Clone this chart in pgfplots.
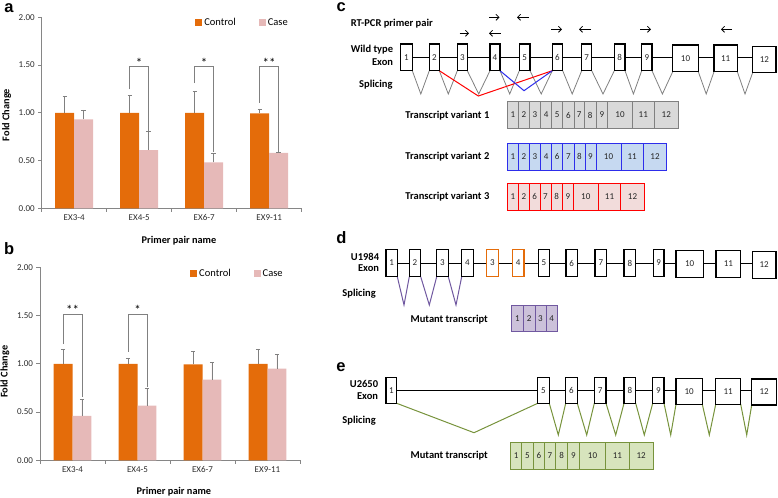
\documentclass[border=0pt]{standalone}
\usepackage{fontspec}
\setmainfont{Carlito}
\newfontfamily\arialf{Liberation Sans}
\usepackage{pgfplots}
\usepackage{pgfplotstable}
\pgfplotsset{compat=1.18}
\usetikzlibrary{arrows.meta}

\definecolor{ctrl}{RGB}{228,108,10}
\definecolor{case}{RGB}{230,185,184}
\definecolor{axgray}{RGB}{134,134,134}
\definecolor{errgray}{RGB}{128,128,128}
\definecolor{tickc}{RGB}{45,45,45}
\definecolor{splgray}{RGB}{128,128,128}
\definecolor{gfill}{RGB}{217,217,217}
\definecolor{gdraw}{RGB}{128,128,128}
\definecolor{bfill}{RGB}{198,217,241}
\definecolor{bdraw}{RGB}{45,45,235}
\definecolor{rfill}{RGB}{242,220,219}
\definecolor{rdraw}{RGB}{255,0,0}
\definecolor{pfill}{RGB}{204,193,218}
\definecolor{pdraw}{RGB}{112,88,160}
\definecolor{grfill}{RGB}{215,228,189}
\definecolor{grdraw}{RGB}{119,147,60}

% xc / xk: positions of the Control and Case bars within each category
\pgfplotstableread{
xc xk c ce k ke
0.854 1.146 1.00 0.17 0.93 0.10
1.854 2.146 1.00 0.18 0.61 0.19
2.854 3.146 1.00 0.22 0.48 0.10
3.854 4.146 0.995 0.045 0.58 0.006
}\dataA
\pgfplotstableread{
xc xk c ce k ke
0.854 1.146 1.00 0.15 0.46 0.17
1.854 2.146 1.00 0.057 0.567 0.18
2.854 3.146 0.995 0.13 0.836 0.175
3.854 4.146 1.00 0.154 0.95 0.15
}\dataB

\newcommand{\bx}[6][]{\draw[#1] (axis cs:#2,#4) rectangle node[exnum]{#6} (axis cs:#3,#5);}

\tikzset{
  exnum/.style={font=\fontsize{9bp}{9bp}\selectfont, inner sep=0pt, text=black!85},
  exonbox/.style={draw=black, line width=1.1bp, fill=white},
  lbl/.style={font=\bfseries\fontsize{10.5bp}{11bp}\selectfont, inner sep=0pt},
  plet/.style={font=\arialf\bfseries\fontsize{16.5bp}{17bp}\selectfont, inner sep=0pt},
  t1/.style={draw=gdraw, fill=gfill, line width=1bp},
  t2/.style={draw=bdraw, fill=bfill, line width=1bp},
  t3/.style={draw=rdraw, fill=rfill, line width=1bp},
  t4/.style={draw=pdraw, fill=pfill, line width=1bp},
  t5/.style={draw=grdraw, fill=grfill, line width=1bp},
  star/.style={anchor=south, inner sep=1bp, font=\fontsize{13bp}{13bp}\selectfont},
}

\pgfplotsset{
  barc/.style={
    scale only axis, width=260bp, anchor=south west,
    xmin=0.5, xmax=4.5, ymin=0, ymax=2, clip=false,
    axis x line*=bottom, axis y line*=left,
    axis line style={draw=axgray, line width=0.8bp},
    xtick={0.5,1.5,2.5,3.5,4.5}, xticklabels={},
    extra x ticks={1,2,3,4},
    extra x tick labels={EX3-4,EX4-5,EX6-7,EX9-11},
    extra x tick style={major tick length=0pt, tick label style={yshift=-2.5bp}},
    ytick={0,0.5,1,1.5,2},
    tick style={draw=axgray, line width=0.8bp},
    tick align=outside, major tick length=3.5bp,
    yticklabel style={/pgf/number format/.cd, fixed, fixed zerofill, precision=2, assume math mode=true},
    tick label style={font=\fontsize{9bp}{9bp}\selectfont, text=tickc},
    ylabel={Fold Change}, xlabel={Primer pair name},
    label style={font=\bfseries\fontsize{10.3bp}{11bp}\selectfont},
    legend columns=2,
    legend style={draw=none, fill=none, inner sep=0pt, font=\fontsize{10.5bp}{11bp}\selectfont,
      /tikz/every even column/.append style={column sep=21bp}},
  },
  ctrlbar/.style={ybar, bar shift=0, bar width=0.292, fill=ctrl, draw=none,
    legend image code/.code={\fill[ctrl] (0bp,-3.5bp) rectangle (7bp,3.5bp);},
    error bars/.cd, y dir=plus, y explicit, error mark=-,
    error bar style={draw=errgray, line width=0.8bp},
    error mark options={draw=errgray, rotate=90, mark size=2.2bp, line width=0.8bp}},
  casebar/.style={ybar, bar shift=0, bar width=0.292, fill=case, draw=none,
    legend image code/.code={\fill[case] (0bp,-3.5bp) rectangle (7bp,3.5bp);},
    error bars/.cd, y dir=plus, y explicit, error mark=-,
    error bar style={draw=errgray, line width=0.8bp},
    error mark options={draw=errgray, rotate=90, mark size=2.2bp, line width=0.8bp}},
  brk/.style={draw=errgray, line width=0.8bp, no marks, forget plot},
}

\begin{document}
\begin{tikzpicture}
\useasboundingbox (0,0) rectangle (778bp,498bp);

% ---------------- chart a ----------------
\begin{axis}[barc, at={(41.7bp,289.7bp)}, height=191bp,
  ylabel style={at={(axis description cs:-0.135,0.488)}, anchor=center},
  xlabel style={at={(axis description cs:0.528,-0.171)}, anchor=center},
  legend style={at={(axis description cs:0.59,0.972)}, anchor=west}]
\addplot[ctrlbar] table[x=xc, y=c, y error=ce] {\dataA};
\addlegendentry{Control}
\addplot[casebar] table[x=xk, y=k, y error=ke] {\dataA};
\addlegendentry{Case}
\addplot[brk] coordinates {(1.854,1.246)(1.854,1.483)(2.146,1.483)(2.146,0.81)};
\addplot[brk] coordinates {(2.854,1.31)(2.854,1.483)(3.146,1.483)(3.146,0.59)};
\addplot[brk] coordinates {(3.854,1.106)(3.854,1.483)(4.146,1.483)(4.146,0.593)};
\node[star] at (axis cs:2,1.46) {*};
\node[star] at (axis cs:3,1.46) {*};
\node[star] at (axis cs:4,1.46) {**};
\end{axis}

% ---------------- chart b ----------------
\begin{axis}[barc, at={(40bp,37.7bp)}, height=193bp,
  ylabel style={at={(axis description cs:-0.135,0.459)}, anchor=center},
  xlabel style={at={(axis description cs:0.515,-0.163)}, anchor=center},
  legend style={at={(axis description cs:0.577,0.966)}, anchor=west}]
\addplot[ctrlbar] table[x=xc, y=c, y error=ce] {\dataB};
\addlegendentry{Control}
\addplot[casebar] table[x=xk, y=k, y error=ke] {\dataB};
\addlegendentry{Case}
\addplot[brk] coordinates {(0.854,1.205)(0.854,1.516)(1.146,1.516)(1.146,0.66)};
\addplot[brk] coordinates {(1.854,1.125)(1.854,1.516)(2.146,1.516)(2.146,0.763)};
\node[star] at (axis cs:1,1.495) {**};
\node[star] at (axis cs:2,1.495) {*};
\end{axis}

% ---------------- diagrams (pixel canvas) ----------------
\begin{axis}[at={(0bp,0bp)}, anchor=south west, scale only axis,
  width=778bp, height=498bp, xmin=0, xmax=778, ymin=0, ymax=498,
  y dir=reverse, hide axis, clip=false]

% panel letters
\node[plet] at (axis cs:9,8.5) {a};
\node[plet] at (axis cs:9.2,248.3) {b};
\node[plet] at (axis cs:341.3,7.5) {c};
\node[plet] at (axis cs:341.5,237.5) {d};
\node[plet] at (axis cs:341,367.5) {e};

% ===== panel c =====
\node[lbl, anchor=west] at (axis cs:350.7,23.3) {RT-PCR primer pair};
\node[lbl, anchor=east] at (axis cs:393.3,49.3) {Wild type};
\node[lbl, anchor=east] at (axis cs:393.3,61.7) {Exon};
\node[lbl, anchor=east] at (axis cs:392.7,85) {Splicing};

% primer arrows
\addplot[black, line width=0.8bp, -{Straight Barb[length=3bp,width=6bp]}] coordinates {(459.5,33.3)(469,33.3)};
\addplot[black, line width=0.8bp, -{Straight Barb[length=3bp,width=6bp]}] coordinates {(489,17.3)(499.5,17.3)};
\addplot[black, line width=0.8bp, -{Straight Barb[length=3bp,width=6bp]}] coordinates {(500.5,33.3)(489,33.3)};
\addplot[black, line width=0.8bp, -{Straight Barb[length=3bp,width=6bp]}] coordinates {(528.5,17.3)(517,17.3)};
\addplot[black, line width=0.8bp, -{Straight Barb[length=3bp,width=6bp]}] coordinates {(551,29.3)(562,29.3)};
\addplot[black, line width=0.8bp, -{Straight Barb[length=3bp,width=6bp]}] coordinates {(591,29.3)(579,29.3)};
\addplot[black, line width=0.8bp, -{Straight Barb[length=3bp,width=6bp]}] coordinates {(640,29.3)(651,29.3)};
\addplot[black, line width=0.8bp, -{Straight Barb[length=3bp,width=6bp]}] coordinates {(732,29.3)(721,29.3)};

% gene line
\addplot[black, line width=1.1bp] coordinates {(405,57.7)(760,57.7)};
% splicing Vs
\addplot[splgray, line width=0.8bp] coordinates {(412.3,70.7)(420.8,94)(429.3,70.7)};
\addplot[splgray, line width=0.8bp] coordinates {(439.3,70.7)(448.3,94)(457.3,70.7)};
\addplot[splgray, line width=0.8bp] coordinates {(467.3,70.7)(478.7,94)(490,70.7)};
\addplot[splgray, line width=0.8bp] coordinates {(500,70.7)(509.7,94)(519.3,70.7)};
\addplot[splgray, line width=0.8bp] coordinates {(530,70.7)(541.2,94)(552.3,70.7)};
\addplot[splgray, line width=0.8bp] coordinates {(562.7,70.7)(572.2,94)(581.7,70.7)};
\addplot[splgray, line width=0.8bp] coordinates {(591.7,70.7)(603,94)(614.3,70.7)};
\addplot[splgray, line width=0.8bp] coordinates {(625,70.7)(633.4,94)(641.7,70.7)};
\addplot[splgray, line width=0.8bp] coordinates {(652,70.7)(662.4,94)(672.7,71.7)};
\addplot[splgray, line width=0.8bp] coordinates {(698.3,71.7)(706.2,94)(714,71.7)};
\addplot[splgray, line width=0.8bp] coordinates {(737.3,71.7)(745,94)(752.7,72.5)};
\addplot[rdraw, line width=1bp] coordinates {(439.3,70.7)(478.3,96)(552.3,70.7)};
\addplot[bdraw, line width=1bp] coordinates {(500,70.7)(524,90.7)(552.3,70.7)};
% exons
\bx[exonbox]{400.7}{412.3}{44}{70.7}{1}
\bx[exonbox]{429.3}{439.3}{44}{70.7}{2}
\bx[exonbox]{457.3}{467.3}{44}{70.7}{3}
\bx[exonbox]{490}{500}{44}{70.7}{4}
\bx[exonbox]{519.3}{530}{44}{70.7}{5}
\bx[exonbox]{552.3}{562.7}{44}{70.7}{6}
\bx[exonbox]{581.7}{591.7}{44}{70.7}{7}
\bx[exonbox]{614.3}{625}{44}{70.7}{8}
\bx[exonbox]{641.7}{652}{44}{70.7}{9}
\bx[exonbox]{672.7}{698.3}{45}{71.7}{10}
\bx[exonbox]{714}{737.3}{45}{71.7}{11}
\bx[exonbox]{752.7}{776}{46.2}{72.5}{12}

% transcripts
\node[lbl, anchor=east] at (axis cs:489.5,115.7) {Transcript variant 1};
\bx[t1]{507.7}{518.3}{101.7}{128.3}{1}
\bx[t1]{518.3}{529.3}{101.7}{128.3}{2}
\bx[t1]{529.3}{540.7}{101.7}{128.3}{3}
\bx[t1]{540.7}{551.7}{101.7}{128.3}{4}
\bx[t1]{551.7}{562.7}{101.7}{128.3}{5}
\bx[t1]{562.7}{574}{101.7}{128.3}{6}
\bx[t1]{574}{584.3}{101.7}{128.3}{7}
\bx[t1]{584.3}{596}{101.7}{128.3}{8}
\bx[t1]{596}{607.7}{101.7}{128.3}{9}
\bx[t1]{607.7}{632.3}{101.7}{128.3}{10}
\bx[t1]{632.3}{654.3}{101.7}{128.3}{11}
\bx[t1]{654.3}{678.3}{101.7}{128.3}{12}

\node[lbl, anchor=east] at (axis cs:489.5,156.7) {Transcript variant 2};
\bx[t2]{507.7}{518.3}{143.3}{170}{1}
\bx[t2]{518.3}{529.3}{143.3}{170}{2}
\bx[t2]{529.3}{540.7}{143.3}{170}{3}
\bx[t2]{540.7}{551.7}{143.3}{170}{4}
\bx[t2]{551.7}{562.7}{143.3}{170}{6}
\bx[t2]{562.7}{574}{143.3}{170}{7}
\bx[t2]{574}{585}{143.3}{170}{8}
\bx[t2]{585}{596}{143.3}{170}{9}
\bx[t2]{596}{621}{143.3}{170}{10}
\bx[t2]{621}{643.3}{143.3}{170}{11}
\bx[t2]{643.3}{666.7}{143.3}{170}{12}

\node[lbl, anchor=east] at (axis cs:489.5,196.7) {Transcript variant 3};
\bx[t3]{507.7}{518.3}{183.3}{210}{1}
\bx[t3]{518.3}{529.3}{183.3}{210}{2}
\bx[t3]{529.3}{540}{183.3}{210}{6}
\bx[t3]{540}{551}{183.3}{210}{7}
\bx[t3]{551}{562.3}{183.3}{210}{8}
\bx[t3]{562.3}{573.3}{183.3}{210}{9}
\bx[t3]{573.3}{598.3}{183.3}{210}{10}
\bx[t3]{598.3}{620.7}{183.3}{210}{11}
\bx[t3]{620.7}{644.3}{183.3}{210}{12}

% ===== panel d =====
\node[lbl, anchor=east] at (axis cs:379.3,257.3) {U1984};
\node[lbl, anchor=east] at (axis cs:379.3,268.6) {Exon};
\node[lbl, anchor=east] at (axis cs:376,294) {Splicing};
\addplot[black, line width=1.1bp] coordinates {(390,263.3)(760,263.3)};
\addplot[pdraw, line width=1bp] coordinates {(397.3,276.7)(404,305)(409.3,276.7)};
\addplot[pdraw, line width=1bp] coordinates {(420.7,276.7)(429.3,305)(436.7,276.7)};
\addplot[pdraw, line width=1bp] coordinates {(448.3,276.7)(456,305)(461.7,276.7)};
\bx[exonbox]{386}{397.3}{249.3}{276.7}{1}
\bx[exonbox]{409.3}{420.7}{249.3}{276.7}{2}
\bx[exonbox]{436.7}{448.3}{249.3}{276.7}{3}
\bx[exonbox]{461.7}{473.3}{249.3}{276.7}{4}
\bx[exonbox, draw=ctrl]{486.7}{498.3}{249.3}{276.7}{3}
\bx[exonbox, draw=ctrl]{512.3}{524}{249.3}{276.7}{4}
\bx[exonbox]{538.3}{549.3}{249.3}{276.7}{5}
\bx[exonbox]{566}{577.3}{249.3}{276.7}{6}
\bx[exonbox]{595}{606.7}{249.3}{276.7}{7}
\bx[exonbox]{624}{635.7}{249.3}{276.7}{8}
\bx[exonbox]{653.3}{664}{249.3}{276.7}{9}
\bx[exonbox]{676}{703.3}{250.7}{277.3}{10}
\bx[exonbox]{716}{740.7}{250.7}{277.3}{11}
\bx[exonbox]{752.3}{776}{251.7}{278.3}{12}
\node[lbl, anchor=east] at (axis cs:488,319.3) {Mutant transcript};
\bx[t4]{511.7}{523.3}{305.7}{331}{1}
\bx[t4]{523.3}{535}{305.7}{331}{2}
\bx[t4]{535}{546}{305.7}{331}{3}
\bx[t4]{546}{557.3}{305.7}{331}{4}

% ===== panel e =====
\node[lbl, anchor=east] at (axis cs:378.3,384) {U2650};
\node[lbl, anchor=east] at (axis cs:378.3,396) {Exon};
\node[lbl, anchor=east] at (axis cs:376,421) {Splicing};
\addplot[black, line width=1.1bp] coordinates {(390,390.7)(760,390.7)};
\addplot[grdraw, line width=1bp] coordinates {(396.7,403.3)(474,432.7)(537.7,403.3)};
\addplot[grdraw, line width=1bp] coordinates {(549.3,403.3)(558.3,435)(565.7,403.3)};
\addplot[grdraw, line width=1bp] coordinates {(577.3,403.3)(586.7,435)(594.3,403.3)};
\addplot[grdraw, line width=1bp] coordinates {(606,403.3)(615.7,435)(624,403.3)};
\addplot[grdraw, line width=1bp] coordinates {(635.7,403.3)(644.3,435)(652.7,403.3)};
\addplot[grdraw, line width=1bp] coordinates {(664,403.3)(670.7,435)(676,404.3)};
\addplot[grdraw, line width=1bp] coordinates {(702.3,404.3)(709.3,435)(715.7,404.3)};
\addplot[grdraw, line width=1bp] coordinates {(740.7,404.3)(746.7,435)(751.7,405)};
\bx[exonbox]{386}{396.7}{377.3}{403.3}{1}
\bx[exonbox]{537.7}{549.3}{377.3}{403.3}{5}
\bx[exonbox]{565.7}{577.3}{377.3}{403.3}{6}
\bx[exonbox]{594.3}{606}{377.3}{403.3}{7}
\bx[exonbox]{624}{635.7}{377.3}{403.3}{8}
\bx[exonbox]{652.7}{664}{377.3}{403.3}{9}
\bx[exonbox]{676}{702.3}{378.3}{404.3}{10}
\bx[exonbox]{715.7}{740.7}{378.3}{404.3}{11}
\bx[exonbox]{751.7}{776.7}{379}{405}{12}
\node[lbl, anchor=east] at (axis cs:488,455.7) {Mutant transcript};
\bx[t5]{510.7}{521.7}{442.3}{469}{1}
\bx[t5]{521.7}{533.3}{442.3}{469}{5}
\bx[t5]{533.3}{544.3}{442.3}{469}{6}
\bx[t5]{544.3}{555.7}{442.3}{469}{7}
\bx[t5]{555.7}{567.7}{442.3}{469}{8}
\bx[t5]{567.7}{579.3}{442.3}{469}{9}
\bx[t5]{579.3}{605.7}{442.3}{469}{10}
\bx[t5]{605.7}{629}{442.3}{469}{11}
\bx[t5]{629}{653.3}{442.3}{469}{12}
\end{axis}
\end{tikzpicture}
\end{document}
